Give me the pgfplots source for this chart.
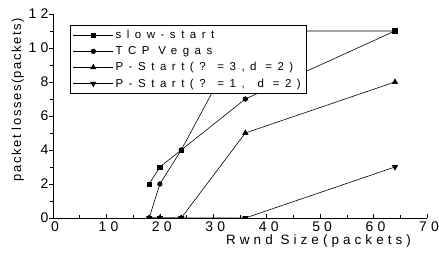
\documentclass[border=0pt]{standalone}
\usepackage{fontspec}
\setmainfont{Liberation Sans}
\newfontfamily\spA[LetterSpace=30]{Liberation Sans}
\newfontfamily\spL[LetterSpace=48]{Liberation Sans}
\newfontfamily\spB[LetterSpace=12]{Liberation Sans}
\usepackage{pgfplots}
\pgfplotsset{compat=1.18}
\begin{document}
\begin{tikzpicture}
\begin{axis}[
  name=ax,
  scale only axis,
  width=374pt, height=204pt,
  xmin=0, xmax=70, ymin=0, ymax=12,
  xtick={0,10,...,70}, ytick={0,2,...,12},
  minor x tick num=1, minor y tick num=1,
  axis x line*=bottom, axis y line*=left,
  axis line style={-, line width=0.6pt},
  tick style={black, line width=0.6pt},
  tick align=inside,
  major tick length=4.5pt, minor tick length=3pt,
  major y tick style={xshift=-4.5pt},
  minor y tick style={xshift=-3pt},
  /pgf/number format/assume math mode=true,
  ticklabel style={font=\spA\fontsize{14}{14}\selectfont},
  xticklabel style={yshift=0pt, xshift=2pt},
  yticklabel style={xshift=-1pt},
  xlabel={Rwnd Size(packets)},
  ylabel={packet losses(packets)},
  xlabel style={font=\spA\fontsize{13.5}{14}\selectfont, at={(ticklabel cs:0.71)}, anchor=north, yshift=4pt},
  ylabel style={font=\spB\fontsize{13}{14}\selectfont, at={(ticklabel cs:0.58)}, yshift=-2pt},
  clip=true, clip marker paths=true,
  every axis plot/.append style={black, line width=0.6pt, mark options={solid, fill=black}},
  legend style={at={(rel axis cs:0.045,0.946)}, anchor=north west, draw=black, line width=0.6pt, fill=white,
    font=\spL\fontsize{11.5}{11.5}\selectfont, row sep=2.4pt, inner sep=3pt, cells={anchor=west}},
  legend image code/.code={\draw[mark repeat=2,mark phase=2] plot coordinates {(0cm,0cm)(0.7cm,0cm)(1.4cm,0cm)};},
]
\addplot[mark=square*, mark size=2.2pt] coordinates {(18,2)(20,3)(24,4)(36,11)(64,11)};
\addlegendentry{slow-start}
\addplot[mark=*, mark size=2.3pt] coordinates {(18,0)(20,2)(24,4)(36,7)(64,11)};
\addlegendentry{TCP Vegas}
\addplot[mark=triangle*, mark size=3pt] coordinates {(18,0)(20,0)(24,0)(36,5)(64,8)};
\addlegendentry{P-Start(? =3,d =2)}
\addplot[mark=triangle*, mark size=3pt, mark options={rotate=180}] coordinates {(18,0)(20,0)(24,0)(36,0)(64,3)};
\addlegendentry{P-Start(? =1,\hspace{13pt}d =2)}
\end{axis}
\pgfresetboundingbox
\path ([xshift=-53pt,yshift=-36pt]ax.south west) rectangle ([xshift=12pt,yshift=14pt]ax.north east);
\end{tikzpicture}
\end{document}
